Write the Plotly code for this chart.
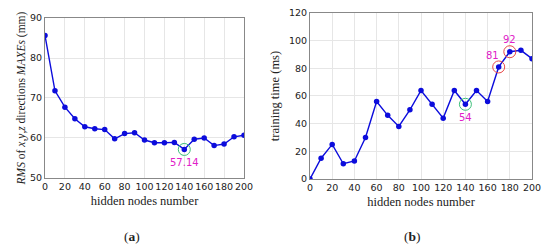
import plotly.graph_objects as go

# hidden nodes number (shared x values)
nodes = [0, 10, 20, 30, 40, 50, 60, 70, 80, 90, 100, 110, 120, 130, 140, 150, 160, 170, 180, 190, 200]

# (a) RMS of x,y,z direction MAXEs (mm)
rms = [85.6, 71.8, 67.7, 64.8, 62.8, 62.3, 62.1, 59.8, 61.1, 61.3, 59.5, 58.8, 58.8, 58.9,
       57.14, 59.7, 60.0, 58.1, 58.5, 60.3, 60.7]

# (b) training time (ms)
train_time = [0, 15, 25, 11, 13, 30, 56, 46, 38, 50, 64, 54, 44, 64, 54, 64, 56, 81, 92, 93, 87]

# highlighted points
best_a = (140, 57.14)
best_b = (140, 54)
red_b = [(170, 81), (180, 92)]

blue = "#0c0cdc"
magenta = "#e020c8"
green = "#3cc07a"
red = "#e84848"
tick_font = dict(family="DejaVu Sans", size=9.5, color="#222")
title_font = dict(family="Liberation Serif", size=12.5, color="#222")

fig = go.Figure()

fig.add_trace(go.Scatter(x=nodes, y=rms, mode="lines+markers",
                         line=dict(color=blue, width=1.4),
                         marker=dict(color=blue, size=5.5), xaxis="x", yaxis="y"))
fig.add_trace(go.Scatter(x=[best_a[0]], y=[best_a[1]], mode="markers",
                         marker=dict(symbol="circle-open", size=12, color=green, line=dict(width=1)),
                         xaxis="x", yaxis="y"))

fig.add_trace(go.Scatter(x=nodes, y=train_time, mode="lines+markers",
                         line=dict(color=blue, width=1.4),
                         marker=dict(color=blue, size=5.5), xaxis="x2", yaxis="y2"))
fig.add_trace(go.Scatter(x=[best_b[0]], y=[best_b[1]], mode="markers",
                         marker=dict(symbol="circle-open", size=12, color=green, line=dict(width=1)),
                         xaxis="x2", yaxis="y2"))
fig.add_trace(go.Scatter(x=[p[0] for p in red_b], y=[p[1] for p in red_b], mode="markers",
                         marker=dict(symbol="circle-open", size=12, color=red, line=dict(width=1)),
                         xaxis="x2", yaxis="y2"))

axis_common = dict(showgrid=True, gridcolor="#e6e6e6", gridwidth=1,
                   showline=True, linecolor="#888", linewidth=1, mirror=True,
                   zeroline=False, tickfont=tick_font, ticks="", automargin=False,
                   tickangle=0)

# page body has an 8px default margin, so the figure is sized to fit the window
fig.update_layout(
    width=542, height=240,
    margin=dict(l=0, r=0, t=0, b=0),
    paper_bgcolor="white", plot_bgcolor="white",
    showlegend=False,
    xaxis=dict(domain=[0.0683, 0.4354], range=[0, 200], tickvals=list(range(0, 201, 20)),
               title=dict(text="hidden nodes number", standoff=4, font=title_font),
               anchor="y", **axis_common),
    yaxis=dict(domain=[0.2917, 0.9583], range=[50, 90], dtick=10,
               title=dict(text="<i>RMS</i> of <i>x</i>,<i>y</i>,<i>z</i> directions <i>MAXEs</i> (mm)",
                          standoff=1, font=dict(family="Liberation Serif", size=11.5, color="#222")),
               anchor="x", **axis_common),
    xaxis2=dict(domain=[0.5572, 0.9668], range=[0, 200], tickvals=list(range(0, 201, 20)),
                title=dict(text="hidden nodes number", standoff=4, font=title_font),
                anchor="y2", **axis_common),
    yaxis2=dict(domain=[0.2875, 0.9792], range=[0, 120], dtick=20,
                title=dict(text="training time (ms)", standoff=6, font=title_font),
                anchor="x2", **axis_common),
)

ann_font = dict(family="DejaVu Sans", size=10, color=magenta)
fig.add_annotation(x=best_a[0], y=best_a[1], xref="x", yref="y", text="57.14",
                   showarrow=False, yshift=-13, font=ann_font)
fig.add_annotation(x=best_b[0], y=best_b[1], xref="x2", yref="y2", text="54",
                   showarrow=False, yshift=-13, font=ann_font)
fig.add_annotation(x=red_b[0][0], y=red_b[0][1], xref="x2", yref="y2", text="81",
                   showarrow=False, xshift=-6, yshift=11, font=ann_font)
fig.add_annotation(x=red_b[1][0], y=red_b[1][1], xref="x2", yref="y2", text="92",
                   showarrow=False, yshift=12, font=ann_font)

lab_font = dict(family="Liberation Serif", size=13.5, color="#222")
fig.add_annotation(x=0.2288, y=0.046, xref="paper", yref="paper", text="(<b>a</b>)",
                   showarrow=False, xanchor="center", yanchor="middle", font=lab_font)
fig.add_annotation(x=0.7454, y=0.046, xref="paper", yref="paper", text="(<b>b</b>)",
                   showarrow=False, xanchor="center", yanchor="middle", font=lab_font)

fig.write_html("out.html")
